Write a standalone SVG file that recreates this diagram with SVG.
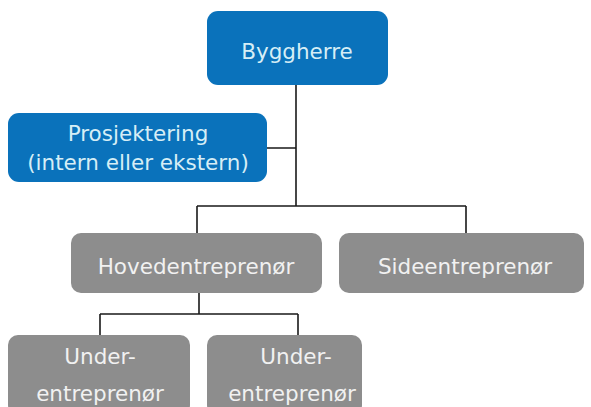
<svg xmlns="http://www.w3.org/2000/svg" width="591" height="407" viewBox="0 0 591 407">
<style>
.blue{fill:#0a72bb}
.gray{fill:#8d8d8d}
.tb{font-family:"DejaVu Sans",sans-serif;font-size:21.5px;fill:#d6eef6;text-anchor:middle}
.tg{font-family:"DejaVu Sans",sans-serif;font-size:21.5px;fill:#f1f1f1;text-anchor:middle}
.c{stroke:#1a1a1a;stroke-width:1.6;fill:none}
</style>
<rect width="591" height="407" fill="#ffffff"/>
<g id="connectors">
<path class="c" d="M296 85V206M267 148H296M197 206H466M197 206V233M466 206V233M199 293V314M100 314H298M100 314V335M298 314V335"/>
</g>
<g id="byggherre">
<rect class="blue" x="207" y="11" width="181" height="74" rx="11"/>
<text class="tb" x="297" y="59">Byggherre</text>
</g>
<g id="prosjektering">
<rect class="blue" x="8" y="113" width="259" height="69" rx="11"/>
<text class="tb" x="138" y="141">Prosjektering</text>
<text class="tb" x="138" y="170">(intern eller ekstern)</text>
</g>
<g id="hovedentreprenor">
<rect class="gray" x="71" y="233" width="251" height="60" rx="10"/>
<text class="tg" x="196" y="274">Hovedentreprenør</text>
</g>
<g id="sideentreprenor">
<rect class="gray" x="339" y="233" width="245" height="60" rx="10"/>
<text class="tg" x="465" y="274">Sideentreprenør</text>
</g>
<g id="under1">
<rect class="gray" x="8" y="335" width="182" height="80" rx="10"/>
<text class="tg" x="100" y="364">Under-</text>
<text class="tg" x="100" y="401">entreprenør</text>
</g>
<g id="under2">
<rect class="gray" x="207" y="335" width="155" height="80" rx="10"/>
<text class="tg" x="296" y="364">Under-</text>
<text class="tg" x="292" y="401">entreprenør</text>
</g>
</svg>
